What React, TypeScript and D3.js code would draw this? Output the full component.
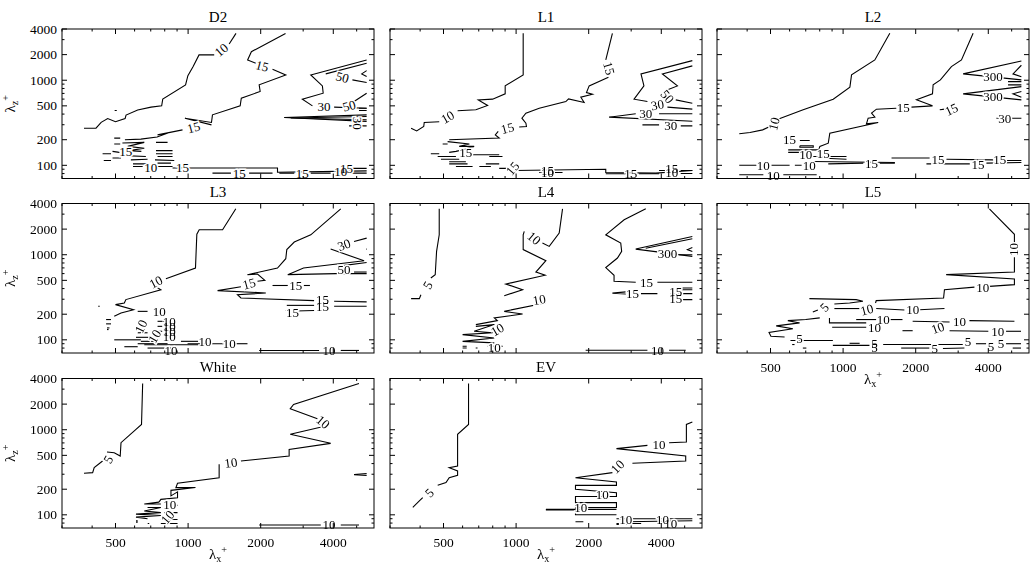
import React from "react";
import * as d3 from "d3";

type Pt = [number, number];
type Label = [string, number, number, number];

const X_DOMAIN: [number, number] = [300, 5900];
const Y_DOMAIN: [number, number] = [70, 4000];
const X_MAJOR = [500, 1000, 2000, 4000];
const X_MINOR = [300, 400, 600, 700, 800, 900, 3000, 5000];
const Y_MAJOR = [100, 200, 500, 1000, 2000, 4000];
const Y_MINOR = [80, 90, 300, 400, 600, 700, 800, 900, 3000];
const TITLES = ["D2", "L1", "L2", "L3", "L4", "L5", "White", "EV"];

const D2_LINES: Pt[][] = [
  [[370,273],[415,273],[436,320],[464,354],[500,325],[548,354],[553,390],[618,447],[702,483],[777,500],[785,600],[976,880],[998,1130],[1048,1440],[1110,1985],[1283,1985]],
  [[1480,2665],[1580,3550]],
  [[496,440],[506,440]],
  [[2535,3550],[1830,2165],[1765,1730],[1910,1580]],
  [[2239,1346],[2541,1155],[1971,883],[1990,737],[1662,615],[1644,500],[1262,392],[1250,319],[970,358],[1250,299]],
  [[948,261],[747,228],[835,243],[744,215],[637,203],[547,200]],
  [[494,209],[523,209]], [[494,178],[523,178]], [[442,137],[479,137]], [[447,114],[479,114]], [[486,146],[519,142]], [[486,122],[527,122]],
  [[534,183],[658,186],[562,167],[658,159],[570,149],[640,146]],
  [[736,186],[822,186]], [[736,149],[862,149]], [[736,137],[862,137]], [[747,127],[862,127]], [[729,116],[876,114]], [[747,106],[849,106]], [[736,97],[862,97]],
  [[579,116],[679,118]], [[591,104],[679,104]], [[591,97],[648,97]], [[544,130],[668,127]],
  [[862,93],[2348,93],[2348,83],[5500,86]],
  [[1262,81],[1505,81]], [[1791,81],[2239,81]],
  [[2390,81],[2756,81]], [[3226,81],[3900,81]],
  [[4800,92],[5500,92]], [[4800,81],[5500,81]],
  [[5500,1731],[3226,1155],[3605,858],[3632,704],[2977,599],[3278,500]],
  [[4032,483],[5500,469]],
  [[5500,1582],[3722,1187]], [[4800,1009],[5500,939]],
  [[5500,1298],[5246,1187],[5500,1104]],
  [[5500,704],[4877,562]], [[5112,469],[5500,469]], [[5112,441],[5500,441]],
  [[5500,392],[2501,365],[5500,328]], [[5500,375],[2665,360],[5500,343]],
  [[4651,291],[5500,291]],
];
const D2_LABELS: Label[] = [
  ["10",1375,2270,-40], ["15",2030,1470,15], ["15",1054,279,-15], ["15",552,146,0], ["10",700,95,0], ["15",948,95,0],
  ["15",1628,81,0], ["15",2977,81,0], ["10",4296,84,0], ["15",4541,92,0],
  ["30",3662,491,0], ["50",4363,1084,15], ["50",4651,500,-15], ["30",5040,313,90],
];

const L1_LINES: Pt[][] = [
  [[367,273],[387,254],[414,286],[416,319],[480,325]],
  [[572,437],[681,449],[762,505],[697,588],[799,599],[901,692],[901,858],[1070,1155],[1070,3560]],
  [[2508,3560],[2354,1731]],
  [[2415,1084],[2009,858],[1958,717],[2074,685],[1855,632],[1915,547],[1650,604],[1608,562],[1247,469],[1098,410],[1057,358],[1098,313],[1104,286],[1030,282]],
  [[843,250],[820,228],[851,209],[528,200]],
  [[496,178],[520,178]], [[443,137],[480,137]], [[473,127],[563,127]], [[488,118],[581,118]], [[528,110],[619,110]], [[528,104],[629,104]],
  [[563,97],[660,97]], [[749,104],[851,104]], [[640,133],[851,133]], [[774,127],[878,127]], [[851,92],[940,92]], [[704,97],[786,97]],
  [[520,190],[640,178],[581,167],[670,167],[600,152],[563,146],[528,142]],
  [[982,87],[2354,90],[2354,82.5],[3793,81],[5380,87]],
  [[1247,82.5],[1558,82.5]], [[2354,79.7],[2851,79.7]], [[3236,79.7],[3916,79.7]], [[3916,87],[4309,87]], [[4817,87],[5380,87]], [[4817,80],[5380,80]],
  [[5380,1700],[3295,1187],[3389,858],[3084,599],[3504,562]], [[4241,483],[5380,457]],
  [[5380,1474],[4042,1187],[4666,858],[4174,756]], [[4592,588],[5380,536]],
  [[3134,403],[2430,368],[5380,330]], [[3916,403],[5380,403]],
  [[3341,299],[3916,299]], [[4817,291],[5380,291]],
];
const L1_LABELS: Label[] = [
  ["10",520,368,-30], ["15",2430,1383,75], ["15",921,273,-15], ["15",619,142,0], ["15",967,92,-50],
  ["15",1350,87,0], ["10",1350,82,0], ["15",2990,80,0], ["15",4418,93,0], ["10",4418,82,0],
  ["30",3854,514,-10], ["50",4241,643,50], ["30",3449,403,0], ["30",4378,291,0],
];

const L2_LINES: Pt[][] = [
  [[371,235],[411,243],[464,261],[497,286]],
  [[530,343],[683,449],[910,599],[1067,829],[1084,1155],[1354,1731],[1562,3560]],
  [[3461,3560],[3096,1731],[2813,1446],[2532,1009],[2362,883],[2348,692],[2015,588],[2348,500],[1921,483]],
  [[1662,469],[1375,457],[1312,410],[1354,368],[1270,358],[1250,308],[1398,319],[881,239],[868,182],[801,167],[789,146]],
  [[2517,449],[2640,457]],
  [[5486,1682],[3146,1187],[5486,1009]], [[5486,1500],[5065,1187],[5486,1100]], [[4830,964],[5486,964]], [[4830,883],[5486,883]],
  [[5486,842],[3146,692],[5486,588]], [[5486,737],[5065,692],[5486,632]],
  [[4323,358],[5486,358]],
  [[662,196],[727,196]],
  [[662,170],[752,170],[752,163],[662,163],[662,170]],
  [[592,152],[801,152]], [[592,142],[683,142]],
  [[752,127],[1033,127]], [[801,122],[1033,118]],
  [[752,111],[1639,108]],
  [[868,104],[1212,106]], [[1420,106],[1639,106]],
  [[1588,122],[2284,122]], [[2683,118],[4188,116]], [[4753,114],[5486,114]],
  [[2216,104],[3352,104]], [[3929,106],[5486,108]],
  [[371,100],[438,100]], [[505,100],[600,100]], [[631,100],[673,100]],
  [[371,77.5],[467,77.5]], [[565,77.5],[777,77.5]],
];
const L2_LABELS: Label[] = [
  ["10",517,308,-75], ["15",1774,483,0], ["15",2813,455,-25], ["300",4188,1100,0], ["300",4188,643,0], ["30",4680,358,0],
  ["15",600,200,0], ["10",700,133,0], ["15",827,137,0], ["15",1312,106,0], ["15",2477,118,0], ["15",4461,116,0], ["15",3628,102,0],
  ["10",467,100,0], ["10",723,100,0], ["10",513,76,0],
];

const L3_LINES: Pt[][] = [
  [[1577,3463],[1390,1964],[1112,1964],[1087,1747],[1073,697],[809,523]],
  [[712,445],[771,388],[552,297],[544,271],[500,259],[594,226],[527,207],[494,189]],
  [[618,216],[679,216]],
  [[424,248],[430,248]], [[457,173],[479,173]], [[457,154],[479,154]], [[461,138],[472,138]], [[461,132],[468,132]],
  [[608,132],[637,132]], [[618,121],[679,121]], [[608,107],[702,107]], [[637,96],[723,96]], [[494,100],[637,100]], [[544,83],[618,83]],
  [[618,90],[822,90]], [[658,87.5],[1130,87.5]], [[679,80],[876,80]], [[934,96],[1100,96]], [[995,90],[1400,90]], [[1560,90],[1763,90]],
  [[747,165],[800,165]], [[747,144],[800,144]], [[747,126],[800,126]],
  [[4296,3463],[3226,1715],[2756,1408],[2566,1149],[2541,898],[2348,697],[1763,583],[1940,594],[2081,500],[1940,487]],
  [[1656,421],[1325,379],[2100,355],[1602,339],[1656,310],[3330,289]], [[4032,284],[5500,279]],
  [[2566,254],[3330,254]], [[4032,248],[5500,248]],
  [[2541,221],[2650,221]], [[2800,218],[3330,221]],
  [[2239,435],[2590,435]], [[3020,435],[3200,435]],
  [[5500,1568],[4877,1434]],
  [[3900,1165],[5367,850],[3010,697],[2590,583],[4100,600],[5500,600]],
  [[5500,812],[4300,740]], [[4877,626],[5500,626]], [[5470,1165],[5500,1165]],
  [[1971,75],[3492,75]], [[4296,75],[5112,75]],
];
const L3_LABELS: Label[] = [
  ["10",736,478,-28], ["10",760,214,0], ["10",637,144,-65], ["10",835,165,0], ["10",835,144,0], ["10",835,126,0], ["10",835,110,0],
  ["10",727,110,-60], ["10",1174,96,0], ["10",1480,90,0], ["10",849,75,0],
  ["15",1791,457,-15], ["15",3605,297,0], ["15",3605,248,0], ["15",2707,212,0], ["15",2796,435,0],
  ["30",4433,1310,-20], ["50",4433,667,0], ["10",3842,75,0],
];

const L4_LINES: Pt[][] = [
  [[480,3463],[480,1715],[468,1094],[462,583],[443,532]],
  [[403,339],[397,305],[367,305]],
  [[1558,3463],[1509,1795],[1372,1252],[1286,1371]],
  [[1081,1878],[1070,1715],[1070,1149],[1329,850],[1208,626],[1320,574],[907,453],[1064,388],[893,330]],
  [[1320,289],[1320,271],[893,216],[1064,201],[812,181],[836,168],[681,151]],
  [[681,144],[812,151],[670,126],[799,121],[600,115],[812,105],[600,96],[812,92]],
  [[600,84],[624,84]], [[600,80],[624,80]], [[680,80],[692,80]], [[760,84],[880,84]],
  [[1943,75.5],[3504,75.5]], [[4309,75.5],[5050,75.5]],
  [[3449,3463],[2806,2574],[2354,1715],[2716,1371],[2740,1094],[2632,914],[2354,707],[2548,574],[2548,487],[3134,474]],
  [[3854,474],[5380,474]],
  [[2851,366],[2508,354],[2851,345]], [[3295,349],[3854,349]],
  [[4817,406],[5380,406]], [[4817,388],[5380,388]], [[4378,349],[5380,349]], [[4817,297],[5380,297]],
  [[5380,1640],[3134,1165],[5380,956]], [[5380,1541],[3449,1190]], [[5380,1219],[5133,1149],[5380,1094]], [[4740,1000],[5380,1000]],
];
const L4_LABELS: Label[] = [
  ["5",430,440,-60], ["10",1189,1568,40], ["10",1247,297,-10], ["10",836,132,-30], ["10",812,82,0], ["10",3854,75.5,0],
  ["15",3471,474,0], ["15",3036,349,0], ["15",4592,371,0], ["15",4592,310,0], ["300",4241,1046,0],
];

const L5_LINES: Pt[][] = [
  [[4042,3463],[5133,1741],[5133,1337]],
  [[5133,933],[5133,626],[2675,583],[5133,518],[5133,445],[4042,425]],
  [[3504,416],[2632,388],[2610,310],[1372,289],[1363,271]],
  [[725,305],[1133,297],[1208,284],[1064,271],[920,264]],
  [[786,224],[749,212]],
  [[800,181],[700,173],[590,168],[660,158],[528,146],[619,135],[493,122],[502,110],[572,108]],
  [[920,233],[1171,233]], [[1372,233],[1795,224]], [[2074,226],[2632,233]],
  [[1133,173],[1372,173]], [[1558,173],[1763,173]],
  [[1943,165],[2763,162]], [[3341,168],[5133,165]],
  [[901,140.5],[1247,140.5]], [[878,181],[878,158],[1247,158]],
  [[1763,128],[1943,128]],
  [[2763,128],[4000,126]], [[4740,126],[5468,126]],
  [[605,98],[907,98]], [[1064,91],[1171,91]], [[615,88],[629,88]], [[681,80],[704,80]],
  [[907,86],[1286,86]], [[1466,88],[3134,88]], [[3555,90],[3916,90]], [[4740,90],[5468,90]], [[5050,80],[5468,80]],
  [[1741,80],[2277,80]], [[2594,79],[3185,80]],
];
const L5_LABELS: Label[] = [
  ["10",5070,1149,-90], ["10",3793,416,0], ["5",836,241,-45], ["10",1255,226,-15], ["10",1943,226,0], ["10",1466,173,0],
  ["10",3036,165,0], ["10",1350,138,0], ["10",2470,138,-20], ["10",4378,126,0],
  ["5",660,103,0], ["5",1350,90,0], ["5",1350,82,0], ["5",3295,94.5,0], ["5",4103,84,0], ["5",4518,90,0], ["5",2398,79,0],
];

const WHITE_LINES: Pt[][] = [
  [[648,3493],[641,1155],[608,1009],[570,858],[527,704],[523,491],[494,536],[461,547]],
  [[442,429],[408,358],[402,313],[370,308]],
  [[5112,3493],[2738,1982],[2652,1765],[3437,1346]],
  [[3722,1104],[2652,883],[3900,692],[2624,588],[2624,491],[1656,429]],
  [[1345,392],[1345,273],[904,235],[890,209],[1073,209],[849,194],[849,167],[904,186],[904,159],[771,152],[757,141]],
  [[757,141],[658,134],[771,134]], [[880,129],[904,129]],
  [[679,122],[771,122],[658,111],[771,106],[608,102],[771,98],[608,94],[679,90]],
  [[796,106],[904,106]], [[771,88],[904,88]], [[771,79],[904,79]],
  [[608,85],[618,85]], [[608,82],[618,82]], [[680,79],[690,79]],
  [[1971,76],[3549,76]], [[4296,76],[5112,76]],
  [[5500,305],[4877,297],[5500,290]],
];
const WHITE_LABELS: Label[] = [
  ["5",467,449,-60], ["10",3632,1231,40], ["10",1505,410,-8], ["10",840,132,0], ["10",822,94,-50], ["10",3842,76,0],
];

const EV_LINES: Pt[][] = [
  [[635,3493],[635,1155],[572,883],[572,375],[528,358],[572,328],[572,291],[528,273],[512,239],[473,222]],
  [[410,159],[397,146],[373,122]],
  [[5380,1231],[5083,1155],[5083,717],[4309,704]],
  [[3504,655],[2607,599],[5050,491],[5050,429],[3036,403]],
  [[2508,313],[1763,273],[2607,243],[2607,222],[1763,222],[1763,200],[2607,182],[2607,164],[1763,164],[1763,139],[2607,139],[2607,122],[1763,122],[1763,100],[2607,100]],
  [[1329,116],[2607,116]], [[1329,114],[1763,114]],
  [[2607,90],[5380,90]], [[2851,83],[5380,85]], [[2607,79],[3300,79]], [[2607,77],[3000,77]], [[1763,83],[1900,83]],
];
const EV_LABELS: Label[] = [
  ["5",437,182,-45], ["10",3916,673,0], ["10",2632,368,-45], ["10",2277,174,0], ["10",1855,122,0],
  ["10",2851,88,0], ["10",4042,88,0], ["10",4378,79,0],
];

const PANEL_LINES = [D2_LINES, L1_LINES, L2_LINES, L3_LINES, L4_LINES, L5_LINES, WHITE_LINES, EV_LINES];
const PANEL_LABELS = [D2_LABELS, L1_LABELS, L2_LABELS, L3_LABELS, L4_LABELS, L5_LABELS, WHITE_LABELS, EV_LABELS];

const COL_LEFT = [62, 390, 717];
const ROW_TOP = [29, 203.5, 378.5];
const PW = 312;
const PH = 149.5;
const FONT = "'Liberation Serif', 'DejaVu Serif', serif";

function Lambda({ sub, fontSize }: { sub: string; fontSize: number }) {
  return (
    <>
      λ
      <tspan fontSize={fontSize * 0.68} dy={fontSize * 0.22}>{sub}</tspan>
      <tspan fontSize={fontSize * 0.68} dy={-fontSize * 0.65}>+</tspan>
    </>
  );
}

function Panel({ idx }: { idx: number }) {
  const row = Math.floor(idx / 3);
  const col = idx % 3;
  const left = COL_LEFT[col];
  const top = ROW_TOP[row];
  const x = d3.scaleLog().domain(X_DOMAIN).range([0, PW]);
  const y = d3.scaleLog().domain(Y_DOMAIN).range([PH, 0]);
  const line = d3.line<Pt>().x((d) => x(d[0])).y((d) => y(d[1]));
  const showY = col === 0;
  const showX = idx >= 5;
  const clipId = `clip${idx}`;
  const labels = PANEL_LABELS[idx];
  return (
    <g transform={`translate(${left},${top})`}>
      <defs>
        <clipPath id={clipId}>
          <rect x={0} y={0} width={PW} height={PH} />
        </clipPath>
      </defs>
      <text x={PW / 2} y={-7} textAnchor="middle" fontSize={15} fontFamily={FONT} fill="#000">
        {TITLES[idx]}
      </text>
      <g clipPath={`url(#${clipId})`}>
        {PANEL_LINES[idx].map((pts, i) => (
          <path key={i} d={line(pts) || ""} fill="none" stroke="#000" strokeWidth={1.1} strokeLinejoin="miter" />
        ))}
      </g>
      <g opacity={0.999}>
        {labels.map(([t, lx, ly, r], i) => (
          <text
            key={`h${i}`}
            transform={`translate(${x(lx)},${y(ly)}) rotate(${r})`}
            textAnchor="middle"
            dominantBaseline="central"
            fontSize={13}
            fontFamily={FONT}
            fill="#fff"
            stroke="#fff"
            strokeWidth={3}
          >
            {t}
          </text>
        ))}
        {labels.map(([t, lx, ly, r], i) => (
          <text
            key={`t${i}`}
            transform={`translate(${x(lx)},${y(ly)}) rotate(${r})`}
            textAnchor="middle"
            dominantBaseline="central"
            fontSize={13}
            fontFamily={FONT}
            fill="#000"
          >
            {t}
          </text>
        ))}
      </g>
      <rect x={0} y={0} width={PW} height={PH} fill="none" stroke="#000" strokeWidth={1} />
      {X_MAJOR.map((v) => (
        <g key={`xm${v}`}>
          <line x1={x(v)} x2={x(v)} y1={PH} y2={PH - 5} stroke="#000" />
          <line x1={x(v)} x2={x(v)} y1={0} y2={5} stroke="#000" />
        </g>
      ))}
      {X_MINOR.map((v) => (
        <g key={`xn${v}`}>
          <line x1={x(v)} x2={x(v)} y1={PH} y2={PH - 2.5} stroke="#000" />
          <line x1={x(v)} x2={x(v)} y1={0} y2={2.5} stroke="#000" />
        </g>
      ))}
      {Y_MAJOR.map((v) => (
        <g key={`ym${v}`}>
          <line x1={0} x2={5} y1={y(v)} y2={y(v)} stroke="#000" />
          <line x1={PW} x2={PW - 5} y1={y(v)} y2={y(v)} stroke="#000" />
        </g>
      ))}
      {Y_MINOR.map((v) => (
        <g key={`yn${v}`}>
          <line x1={0} x2={2.5} y1={y(v)} y2={y(v)} stroke="#000" />
          <line x1={PW} x2={PW - 2.5} y1={y(v)} y2={y(v)} stroke="#000" />
        </g>
      ))}
      {showY &&
        Y_MAJOR.map((v) => (
          <text key={`yl${v}`} x={-5} y={y(v)} textAnchor="end" dominantBaseline="central" fontSize={13.5} fontFamily={FONT} fill="#000">
            {v}
          </text>
        ))}
      {showY && (
        <text transform={`translate(${-47},${PH / 2}) rotate(-90)`} textAnchor="middle" fontSize={15} fontFamily={FONT} fill="#000">
          <Lambda sub="z" fontSize={15} />
        </text>
      )}
      {showX &&
        X_MAJOR.map((v) => (
          <text key={`xl${v}`} x={x(v)} y={PH + 19} textAnchor="middle" fontSize={13.5} fontFamily={FONT} fill="#000">
            {v}
          </text>
        ))}
      {showX && (
        <text x={PW / 2} y={PH + 31} textAnchor="middle" fontSize={15} fontFamily={FONT} fill="#000">
          <Lambda sub="x" fontSize={15} />
        </text>
      )}
    </g>
  );
}

export default function App() {
  return (
    <svg
      width={1030}
      height={566}
      style={{ position: "absolute", left: 0, top: 0, background: "#fff" }}
      xmlns="http://www.w3.org/2000/svg"
    >
      <rect width={1030} height={566} fill="#fff" />
      {TITLES.map((_, i) => (
        <Panel key={i} idx={i} />
      ))}
    </svg>
  );
}
